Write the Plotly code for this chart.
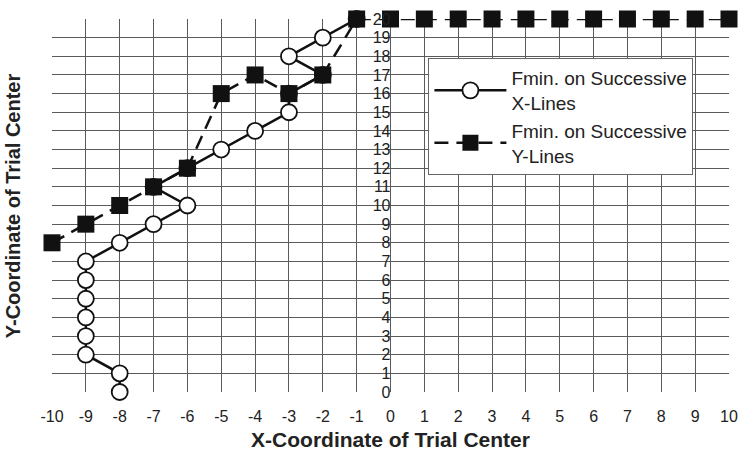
import plotly.graph_objects as go

# Minimum found along each horizontal line (one x per y level)
xlines_x = [-8, -8, -9, -9, -9, -9, -9, -9, -8, -7, -6, -7, -6, -5, -4, -3, -3, -2, -3, -2, -1]
xlines_y = [0, 1, 2, 3, 4, 5, 6, 7, 8, 9, 10, 11, 12, 13, 14, 15, 16, 17, 18, 19, 20]

# Minimum found along each vertical line (one y per x position)
ylines_x = [-10, -9, -8, -7, -6, -5, -4, -3, -2, -1, 0, 1, 2, 3, 4, 5, 6, 7, 8, 9, 10]
ylines_y = [8, 9, 10, 11, 12, 16, 17, 16, 17, 20, 20, 20, 20, 20, 20, 20, 20, 20, 20, 20, 20]

x_ticks = list(range(-10, 11))
y_ticks = list(range(0, 21))

FONT = "Liberation Sans, Arial, sans-serif"

fig = go.Figure()

fig.add_trace(go.Scatter(
    x=xlines_x, y=xlines_y, mode="lines+markers",
    name="Fmin. on Successive<br>X-Lines",
    line=dict(color="#111111", width=2.5),
    marker=dict(symbol="circle", size=16, color="white",
                line=dict(color="#111111", width=1.8)),
    cliponaxis=False,
))

fig.add_trace(go.Scatter(
    x=ylines_x, y=ylines_y, mode="lines+markers",
    name="Fmin. on Successive<br>Y-Lines",
    line=dict(color="#111111", width=2.5, dash="14px,8px"),
    marker=dict(symbol="square", size=17, color="#111111",
                line=dict(color="#111111", width=0)),
    cliponaxis=False,
))

fig.update_layout(
    width=740, height=457,
    margin=dict(l=52, r=11, t=19, b=65, autoexpand=False),
    paper_bgcolor="white", plot_bgcolor="white",
    font=dict(family=FONT, color="#222222"),
    showlegend=True,
    legend=dict(
        x=0.556, y=0.895, xanchor="left", yanchor="top",
        bgcolor="white", bordercolor="#666666", borderwidth=1,
        font=dict(family=FONT, size=19, color="#222222"),
        tracegroupgap=16, itemwidth=72,
    ),
    xaxis=dict(
        range=[-10, 10], tickmode="array", tickvals=x_ticks,
        ticktext=[str(v) for v in x_ticks],
        showgrid=True, gridcolor="#5a5a5a", gridwidth=1,
        zeroline=False, showline=False, ticks="", automargin=False,
        ticklabelstandoff=13, ticklabeloverflow="allow",
        tickfont=dict(size=16, color="#222222"),
        title=dict(text="<b>X-Coordinate of Trial Center</b>",
                   font=dict(size=21, color="#222222"), standoff=8),
    ),
    yaxis=dict(
        range=[0, 20], tickmode="array", tickvals=y_ticks,
        ticktext=[str(v) for v in y_ticks],
        anchor="free", position=0.5, side="left", automargin=False,
        showgrid=True, gridcolor="#5a5a5a", gridwidth=1,
        zeroline=False, showline=False, ticks="",
        ticklabeloverflow="allow",
        tickfont=dict(size=16, color="#222222"),
    ),
    annotations=[dict(
        text="<b>Y-Coordinate of Trial Center</b>",
        textangle=-90, xref="paper", yref="paper",
        x=-0.058, y=0.5, xanchor="center", yanchor="middle",
        showarrow=False, font=dict(size=20, color="#222222", family=FONT),
    )],
)

fig.write_html("out.html")
